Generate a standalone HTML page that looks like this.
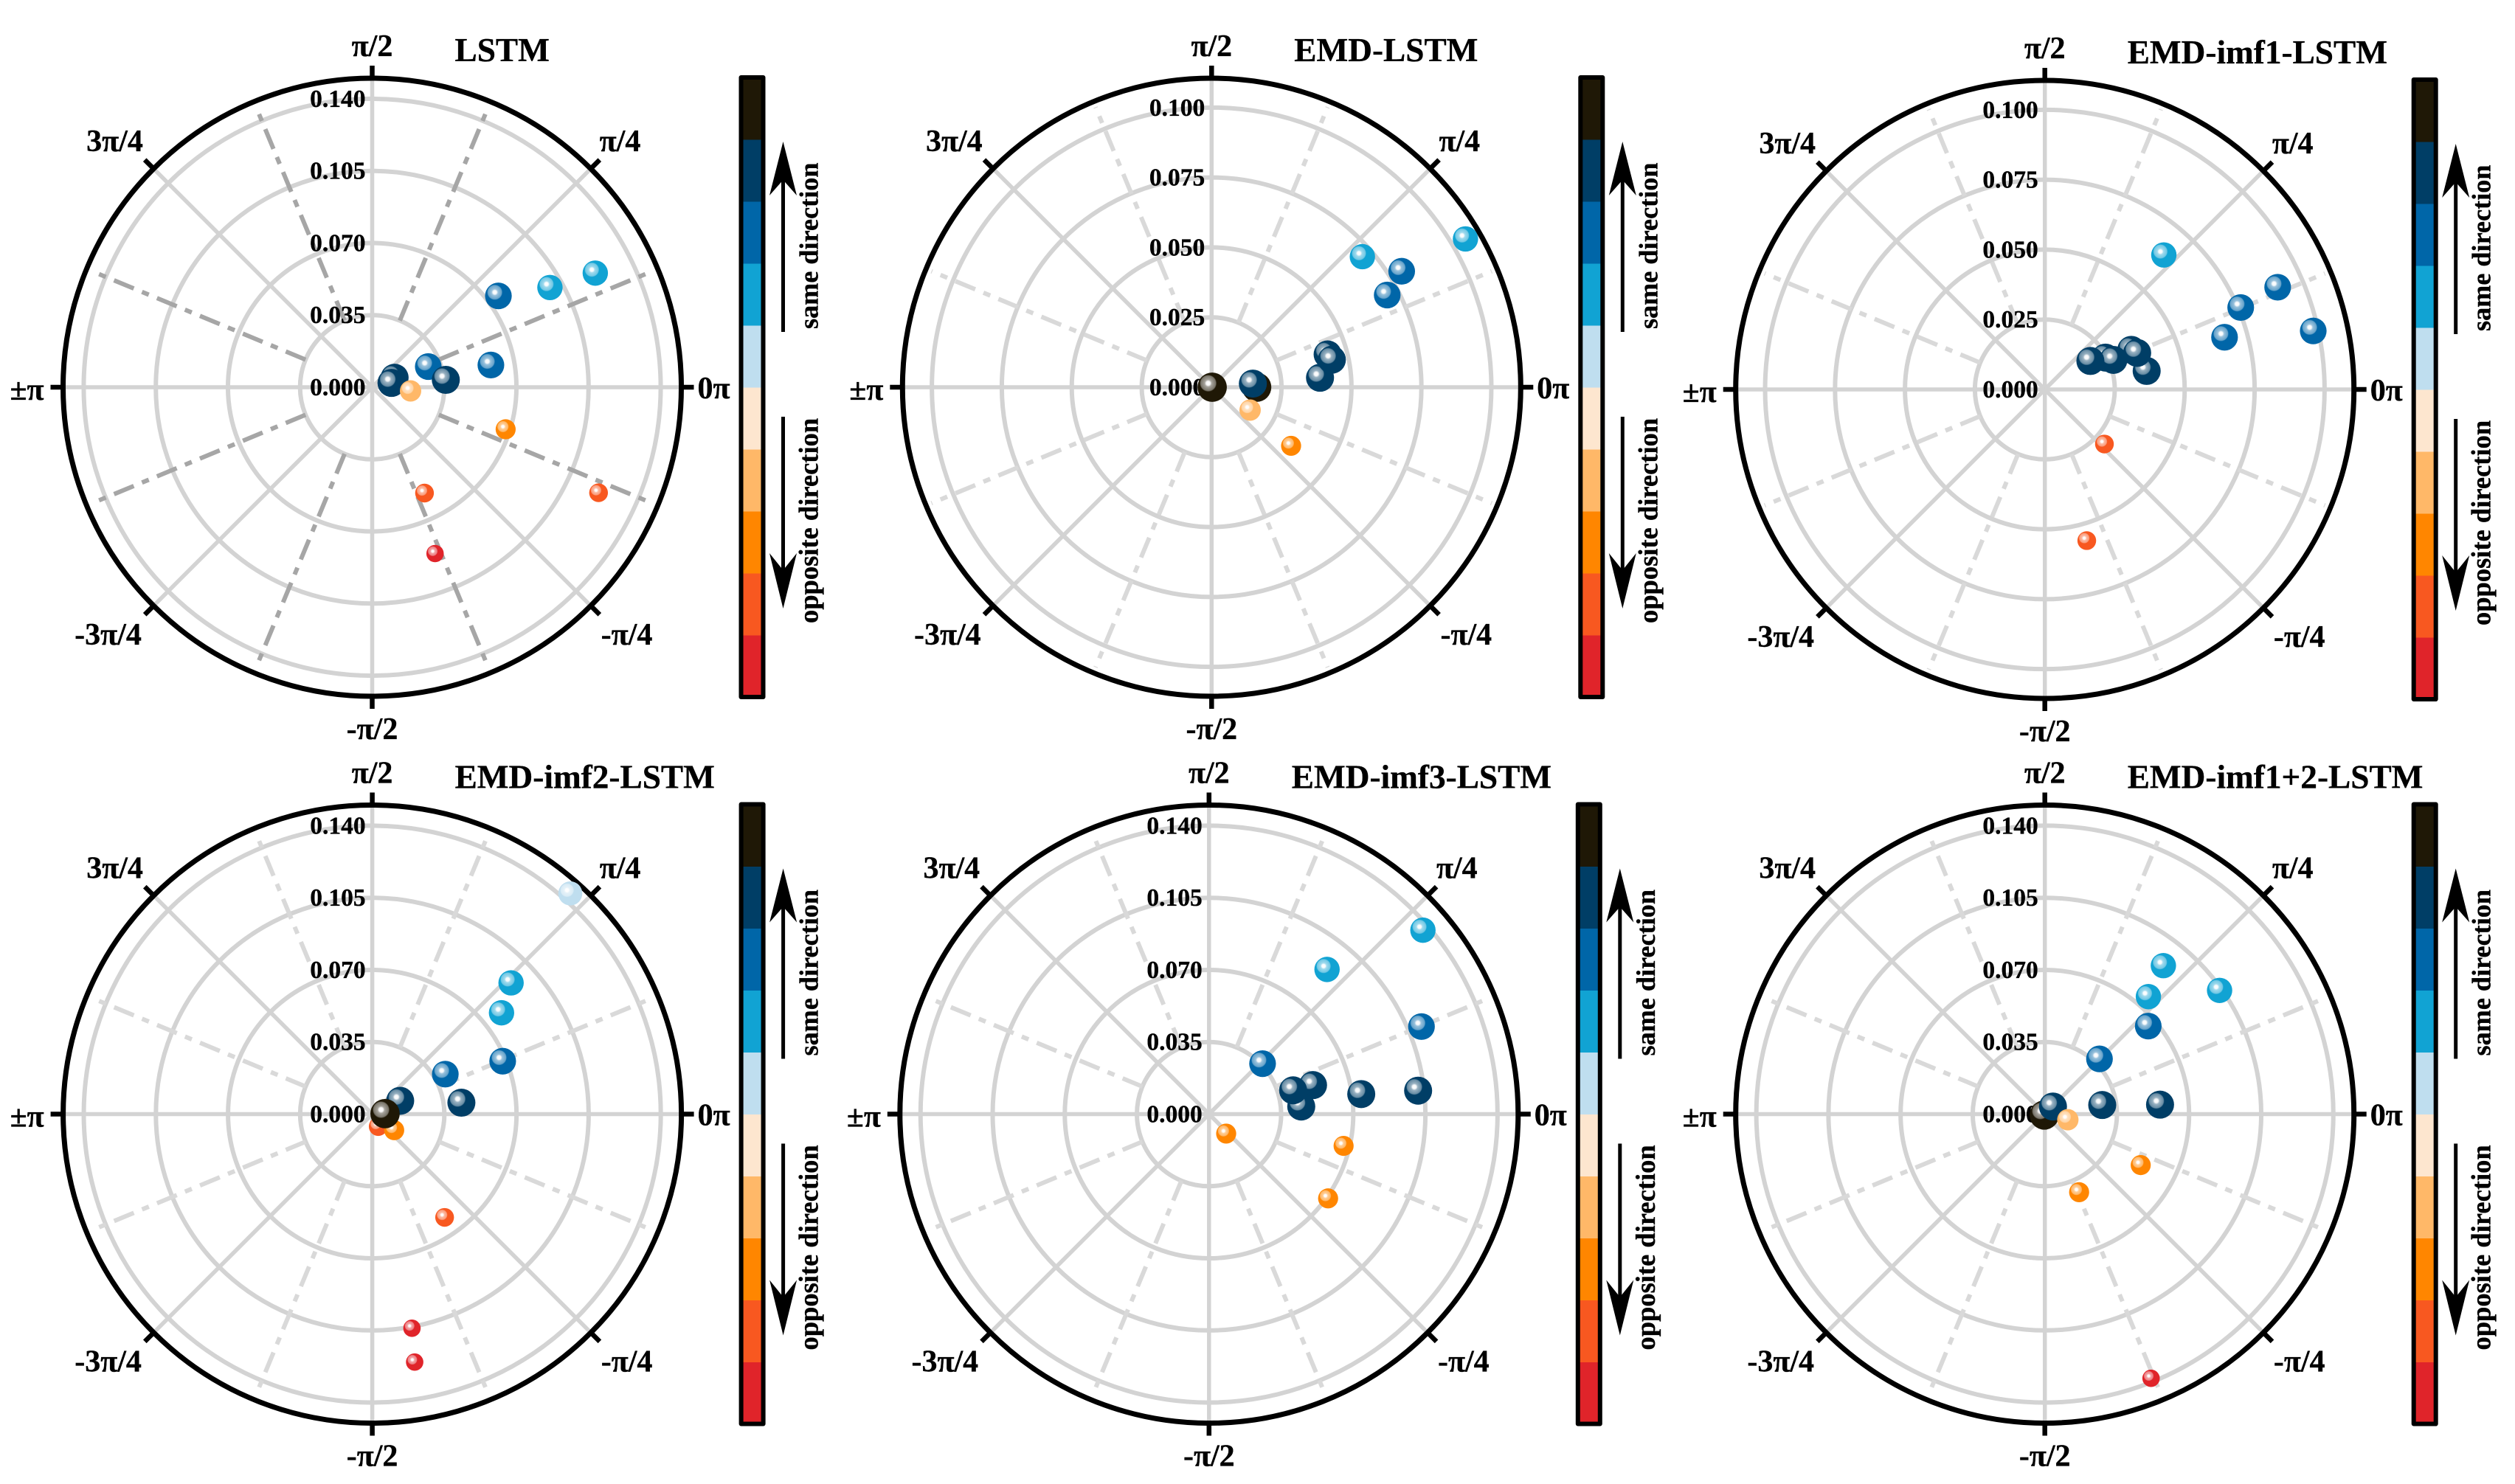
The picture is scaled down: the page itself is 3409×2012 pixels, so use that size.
<!DOCTYPE html>
<html lang="en">
<head>
<meta charset="utf-8">
<title>Polar direction charts</title>
<style>
html,body{margin:0;padding:0;background:#fff;}
svg{display:block;}
text{font-family:"Liberation Serif",serif;font-weight:bold;fill:#000;stroke:#000;stroke-width:0.35px;}
</style>
</head>
<body>
<svg id="figure" xmlns="http://www.w3.org/2000/svg" width="3409" height="2012" viewBox="0 0 3409 2012">
<defs>
<radialGradient id="glint">
<stop offset="0" stop-color="#fff" stop-opacity="1"/>
<stop offset="0.24" stop-color="#fff" stop-opacity="0.96"/>
<stop offset="0.42" stop-color="#fff" stop-opacity="0.6"/>
<stop offset="0.88" stop-color="#fff" stop-opacity="0.4"/>
<stop offset="1" stop-color="#fff" stop-opacity="0"/>
</radialGradient>
</defs>
</svg>
<script>
// Colour-bar classes, bottom (0) to top (9)
const levelColors = ['#e0242a','#f85820','#ff8600','#ffb868','#fde6cf','#bfdeef','#11a3d3','#0066a8','#003e66','#1f1806'];

// Radial tick labels
const wideTicks = [0, 0.035, 0.07, 0.105, 0.14];
const wideTickLabels = ['0.000','0.035','0.070','0.105','0.140'];
const narrowTicks = [0, 0.025, 0.05, 0.075, 0.1];
const narrowTickLabels = ['0.000','0.025','0.050','0.075','0.100'];

// Angular tick labels
const angleTicks = [0, 45, 90, 135, 180, -135, -90, -45];
const angleLabels = ['0π','π/4','π/2','3π/4','±π','-3π/4','-π/2','-π/4'];

// Panel 1: LSTM
const lstmRadius = [0.0118,0.0096,0.0187,0.0290,0.0359,0.0586,0.0679,0.0756,0.0989,0.1216,0.1212,0.0573,0.0863];
const lstmAngle  = [23,12.6,-5.5,20.2,5.7,10.6,-17.5,35.9,29.3,27.1,-25,-63.7,-69.3];
const lstmLevel  = [8,8,3,7,8,7,2,7,6,6,1,1,0];

// Panel 2: EMD-LSTM
const emdRadius = [0.0002,0.0161,0.0148,0.0160,0.0353,0.0389,0.0431,0.0441,0.0709,0.0796,0.0713,0.1051];
const emdAngle  = [0,0,5,-30.7,-36.4,5,15.8,12.9,27.7,31.4,40.9,30.3];
const emdLevel  = [9,9,8,3,2,8,8,8,7,7,6,6];

// Panel 3: EMD-imf1-LSTM
const imf1Radius = [0.0642,0.0982,0.0909,0.0759,0.0669,0.0370,0.0340,0.0355,0.0245,0.0267,0.0192,0.0289,0.0561];
const imf1Angle  = [48.5,12.3,23.7,22.7,16.2,10.3,24.6,21.6,27.7,23.3,32,-42.5,-74.5];
const imf1Level  = [6,7,7,7,7,8,8,8,8,8,8,1,1];

// Panel 4: EMD-imf2-LSTM
const imf2Radius = [0.1439,0.0927,0.0797,0.0683,0.0404,0.0436,0.0150,0.0067,0.0132,0.0062,0.0612,0.1057,0.1221];
const imf2Angle  = [48.1,43.4,38.1,22.1,28.7,7.3,25.5,-64.5,-36.3,2,-55,-79.5,-80.3];
const imf2Level  = [5,6,6,7,7,8,8,1,2,9,1,0,0];

// Panel 5: EMD-imf3-LSTM
const imf3Radius = [0.1369,0.0906,0.1115,0.0357,0.0524,0.0449,0.0424,0.0745,0.1021,0.0126,0.0671,0.0708];
const imf3Angle  = [40.7,50.8,22.4,43.3,15.6,4.7,15.8,7.5,6.4,-48.7,-13.3,-35.3];
const imf3Level  = [6,6,7,7,8,8,8,8,8,2,2,2];

// Panel 6: EMD-imf1+2-LSTM
const imf12Radius = [0.0922,0.0760,0.1039,0.0659,0.0377,0.0282,0.0561,0.0005,0.0054,0.0115,0.0527,0.0414,0.1382];
const imf12Angle  = [51.4,48.6,35.3,40.4,45.3,9,4.7,-120,43,-13.8,-28,-66.3,-68.1];
const imf12Level  = [6,6,6,7,7,8,8,9,8,3,2,2,0];

const NS = 'http://www.w3.org/2000/svg';
const figure = document.getElementById('figure');
const OUTER = 419;

function make(tag, parent, attrs) {
  const el = document.createElementNS(NS, tag);
  for (const k in attrs) el.setAttribute(k, attrs[k]);
  parent.appendChild(el);
  return el;
}

function drawPanel(cfg) {
  const scale = OUTER / cfg.domainMax;
  const px = function (radius, deg) {
    const a = deg * Math.PI / 180;
    return [cfg.cx + radius * Math.cos(a), cfg.cy - radius * Math.sin(a)];
  };

  const g = make('g', figure, {});
  
  

  // Solid spokes
  for (let d = 0; d < 360; d += 45) {
    const p = px(OUTER, d);
    const spoke = make('line', g, {x1: cfg.cx, y1: cfg.cy, x2: p[0], y2: p[1], stroke: '#d3d3d3', 'stroke-width': 5.5});
    
    
  }

  // Rings
  cfg.ticks.forEach(function (t) {
    if (t === 0) return;
    const ring = make('circle', g, {cx: cfg.cx, cy: cfg.cy, r: t * scale, fill: 'none', stroke: '#d3d3d3', 'stroke-width': 6});
    
    
  });

  // Dash-dot spokes
  const inner = cfg.ticks[1] * scale;
  for (let d = 22.5; d < 360; d += 45) {
    const a = px(inner, d);
    const b = px(411, d);
    const dash = make('line', g, {x1: a[0], y1: a[1], x2: b[0], y2: b[1], stroke: cfg.dashColor, 'stroke-width': 6, 'stroke-dasharray': '29 12 10 12'});
    
    
  }

  // Outer frame
  const frame = make('circle', g, {cx: cfg.cx, cy: cfg.cy, r: OUTER, fill: 'none', stroke: '#000', 'stroke-width': 7});
  
  

  // Angular ticks and labels
  angleTicks.forEach(function (d, i) {
    const a = px(OUTER, d);
    const b = px(OUTER + 17, d);
    const tick = make('line', g, {x1: a[0], y1: a[1], x2: b[0], y2: b[1], stroke: '#000', 'stroke-width': 6.5});
    
    

    const horizontal = {'0': 463, '45': 336, '90': 0, '135': -349, '180': -468, '-135': -358, '-90': 0, '-45': 345}[d];
    const vertical = {'0': 1, '45': -334, '90': -463, '135': -334, '180': 3, '-135': 335, '-90': 463, '-45': 335}[d];
    const label = make('text', g, {x: cfg.cx + horizontal, y: cfg.cy + vertical + 14, 'font-size': 42, 'text-anchor': 'middle'});
    label.textContent = angleLabels[i];
    
    
  });

  // Radial tick labels
  cfg.ticks.forEach(function (t, i) {
    const label = make('text', g, {x: cfg.cx - 9, y: cfg.cy - t * scale + 11, 'font-size': 33.5, 'text-anchor': 'end'});
    label.textContent = cfg.tickLabels[i];
    
    
  });

  // Title
  const title = make('text', g, {x: cfg.cx + 112, y: cfg.cy - 442, 'font-size': 45.3});
  title.textContent = cfg.title;
  
  

  // Spheres
  cfg.radius.forEach(function (value, i) {
    const level = cfg.level[i];
    const c = px(value * scale, cfg.angle[i]);
    const size = 11.8 + 0.9 * level;
    const sphere = make('g', g, {});
    
    
    make('circle', sphere, {cx: c[0], cy: c[1], r: size, fill: levelColors[level]});
    make('circle', sphere, {cx: c[0] - size * 0.27, cy: c[1] - size * 0.27, r: size * 0.58, fill: 'url(#glint)'});
  });

  // Colour bar
  const barLeft = cfg.cx + 500;
  const barTop = cfg.cy - 420;
  const barWidth = 30;
  const barHeight = 840;
  const bar = make('g', g, {});
  
  
  levelColors.forEach(function (color, i) {
    const segment = make('rect', bar, {x: barLeft, y: barTop + barHeight * (9 - i) / 10, width: barWidth, height: barHeight / 10 + 0.5, fill: color});
    
    
  });
  const barFrame = make('rect', bar, {x: barLeft, y: barTop, width: barWidth, height: barHeight, fill: 'none', stroke: '#000', 'stroke-width': 6, 'stroke-linejoin': 'round'});
  
  

  // Direction arrows
  const ax = barLeft + 57;
  const up = make('g', g, {});
  
  
  make('line', up, {x1: ax, y1: cfg.cy - 75, x2: ax, y2: cfg.cy - 290, stroke: '#000', 'stroke-width': 5});
  make('path', up, {d: 'M' + ax + ' ' + (cfg.cy - 333) + 'L' + (ax + 18.5) + ' ' + (cfg.cy - 260) + 'L' + ax + ' ' + (cfg.cy - 281) + 'L' + (ax - 18.5) + ' ' + (cfg.cy - 260) + 'Z', fill: '#000'});
  const down = make('g', g, {});
  
  
  make('line', down, {x1: ax, y1: cfg.cy + 40, x2: ax, y2: cfg.cy + 255, stroke: '#000', 'stroke-width': 5});
  make('path', down, {d: 'M' + ax + ' ' + (cfg.cy + 300) + 'L' + (ax + 18.5) + ' ' + (cfg.cy + 225) + 'L' + ax + ' ' + (cfg.cy + 248) + 'L' + (ax - 18.5) + ' ' + (cfg.cy + 225) + 'Z', fill: '#000'});

  // Rotated captions
  const tx = barLeft + 104;
  const same = make('text', g, {transform: 'translate(' + tx + ' ' + (cfg.cy - 79) + ') rotate(-90)', 'font-size': 36.2});
  same.textContent = 'same direction';
  
  
  const opposite = make('text', g, {transform: 'translate(' + tx + ' ' + (cfg.cy + 320) + ') rotate(-90)', 'font-size': 36.5});
  opposite.textContent = 'opposite direction';
  
  
}

drawPanel({slug: 'lstm', title: 'LSTM', cx: 504.5, cy: 525, domainMax: 0.15, ticks: wideTicks, tickLabels: wideTickLabels, dashColor: '#a6a6a6', radius: lstmRadius, angle: lstmAngle, level: lstmLevel});
drawPanel({slug: 'emd-lstm', title: 'EMD-LSTM', cx: 1642.3, cy: 525, domainMax: 0.1105, ticks: narrowTicks, tickLabels: narrowTickLabels, dashColor: '#d9d9d9', radius: emdRadius, angle: emdAngle, level: emdLevel});
drawPanel({slug: 'emd-imf1-lstm', title: 'EMD-imf1-LSTM', cx: 2771.7, cy: 528, domainMax: 0.1105, ticks: narrowTicks, tickLabels: narrowTickLabels, dashColor: '#d9d9d9', radius: imf1Radius, angle: imf1Angle, level: imf1Level});
drawPanel({slug: 'emd-imf2-lstm', title: 'EMD-imf2-LSTM', cx: 504.6, cy: 1510.5, domainMax: 0.15, ticks: wideTicks, tickLabels: wideTickLabels, dashColor: '#d9d9d9', radius: imf2Radius, angle: imf2Angle, level: imf2Level});
drawPanel({slug: 'emd-imf3-lstm', title: 'EMD-imf3-LSTM', cx: 1638.8, cy: 1510.5, domainMax: 0.15, ticks: wideTicks, tickLabels: wideTickLabels, dashColor: '#d9d9d9', radius: imf3Radius, angle: imf3Angle, level: imf3Level});
drawPanel({slug: 'emd-imf1-2-lstm', title: 'EMD-imf1+2-LSTM', cx: 2771.7, cy: 1510.5, domainMax: 0.15, ticks: wideTicks, tickLabels: wideTickLabels, dashColor: '#d9d9d9', radius: imf12Radius, angle: imf12Angle, level: imf12Level});
</script>
</body>
</html>
